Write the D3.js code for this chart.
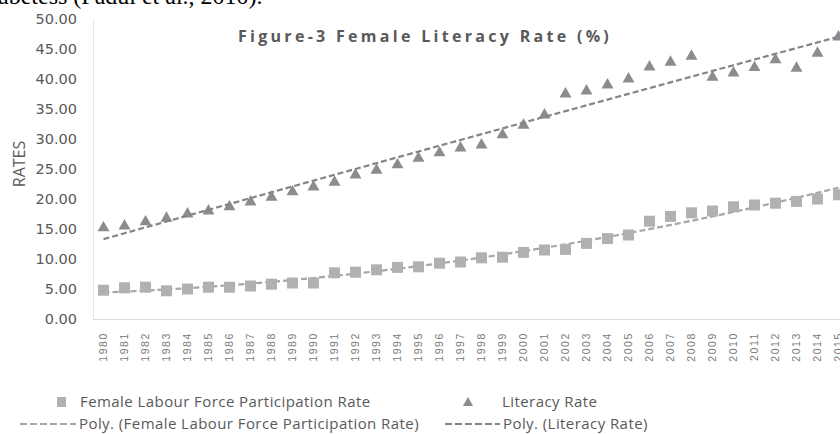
<!DOCTYPE html>
<html lang="en">
<head>
    <meta charset="UTF-8">
    <title>Figure-3 Female Literacy Rate</title>
    <style>
        body { margin: 0; background: #fff; }
        svg { display: block; }
    </style>
    <script src="https://cdn.jsdelivr.net/npm/d3@7"></script>
</head>
<body>
<script>
    var years = d3.range(1980, 2016).map(String);
    var labourRate = [4.8, 5.2, 5.3, 4.7, 5.0, 5.3, 5.3, 5.5, 5.8, 6.0, 6.0, 7.7, 7.8, 8.2, 8.6, 8.7, 9.3, 9.5,
        10.2, 10.3, 11.1, 11.5, 11.6, 12.6, 13.4, 14.0, 16.3, 17.1, 17.7, 18.0, 18.7, 19.0, 19.3, 19.6, 20.0, 20.7];
    var literacyRate = [15.2, 15.5, 16.2, 16.8, 17.5, 18.0, 18.7, 19.5, 20.3, 21.2, 22.0, 22.8, 24.0, 24.8, 25.7, 26.8, 27.7, 28.5,
        29.0, 30.7, 32.3, 34.0, 37.5, 38.0, 39.0, 40.0, 42.0, 42.8, 43.8, 40.3, 41.0, 41.9, 43.2, 41.8, 44.3, 47.0];
    var yTicks = [0, 5, 10, 15, 20, 25, 30, 35, 40, 45, 50];

    var width = 840, height = 434;
    var plot = {left: 93, right: 849, top: 19, bottom: 319};

    // polynomial (order 2) least squares, like the Excel "Poly." trendline
    function polyFit(values) {
        var S = [0, 0, 0, 0, 0], T = [0, 0, 0];
        values.forEach(function(v, i) {
            var x = i + 1;
            for (var k = 0; k < 5; k++) S[k] += Math.pow(x, k);
            for (var k = 0; k < 3; k++) T[k] += v * Math.pow(x, k);
        });
        var A = [[S[0], S[1], S[2], T[0]], [S[1], S[2], S[3], T[1]], [S[2], S[3], S[4], T[2]]];
        for (var c = 0; c < 3; c++) {
            for (var r = c + 1; r < 3; r++) {
                var f = A[r][c] / A[c][c];
                for (var k = c; k < 4; k++) A[r][k] -= f * A[c][k];
            }
        }
        var b = [0, 0, 0];
        for (var r = 2; r >= 0; r--) {
            var s = A[r][3];
            for (var k = r + 1; k < 3; k++) s -= A[r][k] * b[k];
            b[r] = s / A[r][r];
        }
        return values.map(function(v, i) { var x = i + 1; return b[0] + b[1] * x + b[2] * x * x; });
    }

    var svg = d3.select("body").append("svg")
        .attr("width", width)
        .attr("height", height);

    // clipped text from the page above the figure
    svg.append("text")
        .attr("x", -2)
        .attr("y", 4)
        .style("font-family", "'Liberation Serif', serif")
        .style("font-size", "24px")
        .attr("fill", "#000")
        .text("abetess (Fadul et al., 2010).");

    var x = d3.scaleBand().domain(years).range([plot.left, plot.right]);
    var y = d3.scaleLinear().domain([0, 50]).range([plot.bottom, plot.top]);

    // axis lines
    svg.append("line")
        .attr("x1", plot.left).attr("x2", plot.right)
        .attr("y1", plot.bottom + 0.5).attr("y2", plot.bottom + 0.5)
        .attr("stroke", "#d9d9d9");
    svg.append("line")
        .attr("x1", plot.left + 0.5).attr("x2", plot.left + 0.5)
        .attr("y1", plot.top).attr("y2", plot.bottom)
        .attr("stroke", "#e6e6e6");

    // y axis
    var yAxis = d3.axisLeft(y).tickValues(yTicks).tickFormat(d3.format(".2f")).tickSize(0).tickPadding(16);
    var gy = svg.append("g").attr("transform", "translate(" + plot.left + ",0)").call(yAxis);
    gy.select(".domain").remove();
    gy.selectAll("text")
        .style("font-family", "'DejaVu Sans', sans-serif")
        .style("font-size", "14.5px")
        .attr("fill", "#595959");

    svg.append("text")
        .attr("transform", "translate(19,164) rotate(-90)")
        .attr("dy", "0.35em")
        .style("text-anchor", "middle")
        .style("font-family", "'Open Sans', sans-serif")
        .style("font-size", "16px")
        .attr("fill", "#595959")
        .text("RATES");

    // x axis
    var xAxis = d3.axisBottom(x).tickSize(0).tickPadding(0);
    var gx = svg.append("g").attr("transform", "translate(0," + plot.bottom + ")").call(xAxis);
    gx.select(".domain").remove();
    gx.selectAll("text")
        .attr("transform", "rotate(-90)")
        .attr("x", -13)
        .attr("y", 0)
        .attr("dy", "0.35em")
        .style("text-anchor", "end")
        .style("font-family", "'Liberation Sans', sans-serif")
        .style("font-size", "10.5px")
        .style("letter-spacing", "1.6px")
        .attr("fill", "#7a7a7a");

    var cx = function(d, i) { return x(years[i]) + x.bandwidth() / 2; };

    // trend lines
    var line = d3.line().x(function(d, i) { return cx(d, i); }).y(function(d) { return y(d); });
    svg.append("path")
        .datum(polyFit(labourRate))
        .attr("d", line)
        .attr("fill", "none")
        .attr("stroke", "#a6a6a6")
        .attr("stroke-width", 2.2)
        .attr("stroke-dasharray", "6,3");

    // markers
    svg.append("g").selectAll("rect")
        .data(labourRate)
        .join("rect")
        .attr("x", function(d, i) { return cx(d, i) - 5.5; })
        .attr("y", function(d) { return y(d) - 5.5; })
        .attr("width", 11)
        .attr("height", 11)
        .attr("fill", "#b1b1b4");

    var tri = d3.symbol().type(d3.symbolTriangle).size(62);
    svg.append("g").selectAll("path")
        .data(literacyRate)
        .join("path")
        .attr("d", tri)
        .attr("transform", function(d, i) { return "translate(" + cx(d, i) + "," + y(d) + ")"; })
        .attr("fill", "#8c8c90");

    svg.append("path")
        .datum(polyFit(literacyRate))
        .attr("d", line)
        .attr("fill", "none")
        .attr("stroke", "#858585")
        .attr("stroke-width", 2.2)
        .attr("stroke-dasharray", "6,3");

    // title
    svg.append("text")
        .attr("x", 425)
        .attr("y", 42)
        .style("text-anchor", "middle")
        .style("font-family", "'Open Sans', sans-serif")
        .style("font-weight", "bold")
        .style("font-size", "16px")
        .style("letter-spacing", "3.3px")
        .attr("fill", "#595959")
        .text("Figure-3 Female Literacy Rate (%)");

    // legend
    var legendFont = function(sel) {
        sel.style("font-family", "'Open Sans', sans-serif")
            .style("font-size", "15px")
            .style("letter-spacing", "0.43px")
            .attr("fill", "#595959");
    };
    var lg = svg.append("g");
    lg.append("rect").attr("x", 57).attr("y", 397).attr("width", 9).attr("height", 10).attr("fill", "#b1b1b4");
    lg.append("text").attr("x", 80).attr("y", 407).call(legendFont).text("Female Labour Force Participation Rate");
    lg.append("path").attr("d", d3.symbol().type(d3.symbolTriangle).size(45))
        .attr("transform", "translate(468,403)").attr("fill", "#8c8c90");
    lg.append("text").attr("x", 502).attr("y", 407).call(legendFont).text("Literacy Rate");

    lg.append("line").attr("x1", 20).attr("x2", 76).attr("y1", 424).attr("y2", 424)
        .attr("stroke", "#a6a6a6").attr("stroke-width", 2).attr("stroke-dasharray", "7,3");
    lg.append("text").attr("x", 79).attr("y", 429).call(legendFont).text("Poly. (Female Labour Force Participation Rate)");
    lg.append("line").attr("x1", 445).attr("x2", 500).attr("y1", 424).attr("y2", 424)
        .attr("stroke", "#858585").attr("stroke-width", 2).attr("stroke-dasharray", "7,3");
    lg.append("text").attr("x", 503).attr("y", 429).call(legendFont).text("Poly. (Literacy Rate)");
</script>
</body>
</html>
